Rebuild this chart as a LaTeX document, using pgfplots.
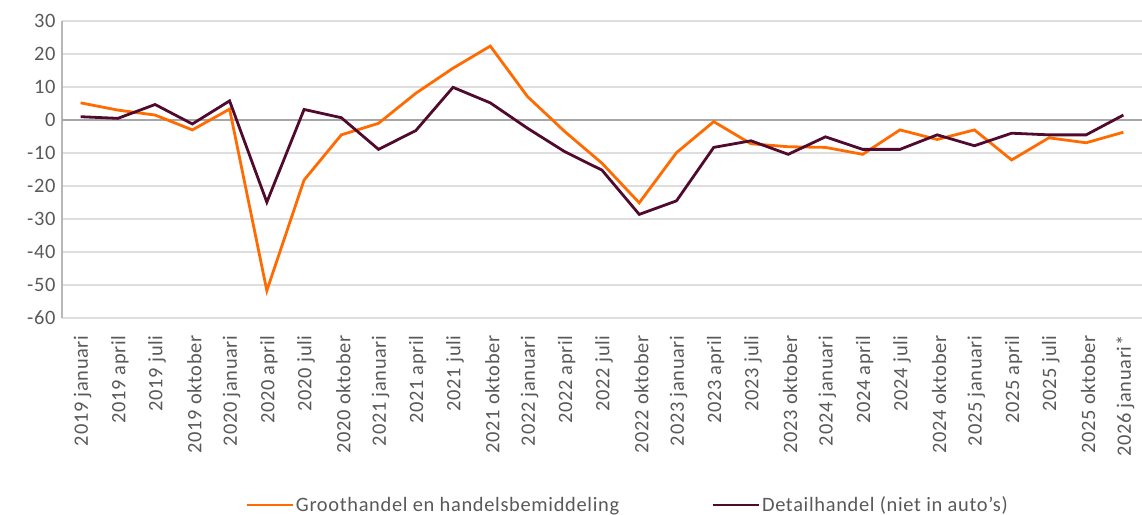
\documentclass[border=0pt]{standalone}
\usepackage{pgfplots}
\pgfplotsset{compat=1.18}
\usepackage{fontspec}
\setmainfont{Carlito}[LetterSpace=3.3]
\definecolor{cOrange}{RGB}{255,107,0}
\definecolor{cDark}{RGB}{80,10,45}
\definecolor{cText}{RGB}{89,89,89}
\definecolor{cGrid}{RGB}{222,222,222}
\definecolor{cZero}{RGB}{166,166,166}
\begin{document}
\begin{tikzpicture}
\path[use as bounding box] (0,0) rectangle (1142bp,515bp);
\begin{axis}[
  at={(62bp,197bp)}, anchor=south west,
  scale only axis, width=1080bp, height=297bp,
  xmin=-0.5, xmax=28.5, ymin=-60, ymax=30,
  ytick={-60,-50,...,30},
  xtick={0,...,28},
  xticklabels={2019 januari,2019 april,2019 juli,2019 oktober,2020 januari,2020 april,2020 juli,2020 oktober,2021 januari,2021 april,2021 juli,2021 oktober,2022 januari,2022 april,2022 juli,2022 oktober,2023 januari,2023 april,2023 juli,2023 oktober,2024 januari,2024 april,2024 juli,2024 oktober,2025 januari,2025 april,2025 juli,2025 oktober,2026 januari*},
  major tick length=0pt,
  axis y line*=left, axis x line*=bottom,
  y axis line style={-, draw=cZero!80, line width=2bp},
  x axis line style={draw=none},
  ymajorgrids, grid style={draw=cGrid, line width=1.3bp},
  /pgf/number format/assume math mode=true,
  tick label style={font=\fontsize{20.5}{24}\selectfont, text=cText},
  yticklabel style={xshift=-3bp},
  xticklabel style={yshift=-14bp, xshift=2bp, rotate=90, anchor=east},
  legend columns=2,
  legend style={at={(0.5236,-0.6296)}, anchor=center, draw=none, fill=none,
    font=\fontsize{20.5}{24}\selectfont, text=cText,
    /tikz/every even column/.append style={column sep=90bp}},
  legend image code/.code={\draw[#1] (0bp,0bp) -- (46bp,0bp);},
]
\addplot[draw=cZero, line width=2.5bp, forget plot] coordinates {(-0.5,0) (28.5,0)};
\addplot[cOrange, line width=2.8bp] coordinates {
(0,5.2) (1,3.0) (2,1.5) (3,-3.0) (4,3.3) (5,-51.7) (6,-18.2) (7,-4.5) (8,-1.0) (9,8.1)
(10,15.7) (11,22.4) (12,7.1) (13,-3.5) (14,-13.1) (15,-25.1) (16,-9.9) (17,-0.5) (18,-7.2) (19,-8.1)
(20,-8.3) (21,-10.4) (22,-3.0) (23,-5.9) (24,-3.0) (25,-12.1) (26,-5.4) (27,-6.9) (28,-3.7)};
\addlegendentry{Groothandel en handelsbemiddeling}
\addplot[cDark, line width=2.8bp] coordinates {
(0,1.0) (1,0.5) (2,4.7) (3,-1.2) (4,5.8) (5,-24.9) (6,3.2) (7,0.7) (8,-8.9) (9,-3.2)
(10,9.9) (11,5.2) (12,-2.5) (13,-9.6) (14,-15.2) (15,-28.6) (16,-24.5) (17,-8.3) (18,-6.3) (19,-10.4)
(20,-5.1) (21,-8.9) (22,-8.9) (23,-4.5) (24,-7.8) (25,-4.0) (26,-4.5) (27,-4.5) (28,1.5)};
\addlegendentry{Detailhandel (niet in auto’s)}
\end{axis}
\end{tikzpicture}
\end{document}
